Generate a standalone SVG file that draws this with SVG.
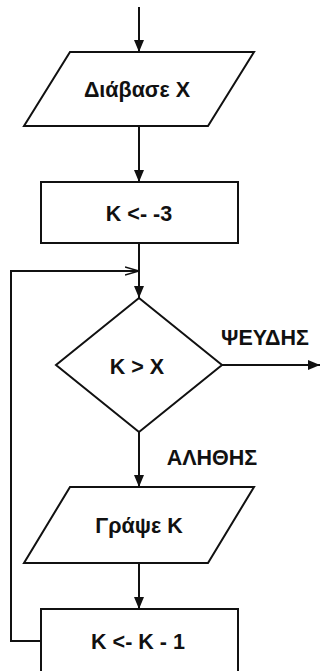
<svg xmlns="http://www.w3.org/2000/svg" width="321" height="671" viewBox="0 0 321 671">
<defs>
<style>
.shape{fill:#fff;stroke:#111;stroke-width:2;stroke-linejoin:miter}
.line{fill:none;stroke:#111;stroke-width:2}
.lbl{font-family:"Liberation Sans",Arial,sans-serif;font-weight:bold;font-size:21.5px;fill:#111;text-anchor:middle}
</style>
<marker id="arr" viewBox="0 0 12 10" refX="12" refY="5" markerWidth="12" markerHeight="10" markerUnits="userSpaceOnUse" orient="auto">
<path d="M0,0 L12,5 L0,10 Z" fill="#111"/>
</marker>
<marker id="open" viewBox="0 0 14 10" refX="14" refY="5" markerWidth="14" markerHeight="10" markerUnits="userSpaceOnUse" orient="auto">
<path d="M0,1 L14,5 L0,9" fill="none" stroke="#111" stroke-width="1.5"/>
</marker>
</defs>
<rect width="321" height="671" fill="#fff"/>
<g id="connectors">
<line class="line" x1="139" y1="7" x2="139" y2="52" marker-end="url(#arr)"/>
<line class="line" x1="139" y1="126" x2="139" y2="182" marker-end="url(#arr)"/>
<line class="line" x1="139" y1="243" x2="139" y2="298" marker-end="url(#arr)"/>
<line class="line" x1="222" y1="365" x2="320" y2="365" marker-end="url(#arr)"/>
<line class="line" x1="139" y1="432" x2="139" y2="487" marker-end="url(#arr)"/>
<line class="line" x1="139" y1="563" x2="139" y2="609" marker-end="url(#arr)"/>
<polyline class="line" points="41,641 11,641 11,271 139,271" marker-end="url(#open)"/>
</g>
<g id="read-x">
<polygon class="shape" points="70,52 254,52 208,126 24,126"/>
<text class="lbl" x="137" y="97">Διάβασε X</text>
</g>
<g id="init-k">
<rect class="shape" x="41" y="182" width="197" height="61"/>
<text class="lbl" x="139" y="221">K &lt;- -3</text>
</g>
<g id="cond">
<polygon class="shape" points="139,298 222,365 139,432 56,365"/>
<text class="lbl" x="137" y="374">K &gt; X</text>
</g>
<g id="label-false">
<text class="lbl" x="265" y="345">ΨΕΥΔΗΣ</text>
</g>
<g id="label-true">
<text class="lbl" x="212" y="465">ΑΛΗΘΗΣ</text>
</g>
<g id="write-k">
<polygon class="shape" points="70,487 254,487 208,563 24,563"/>
<text class="lbl" x="139" y="533">Γράψε K</text>
</g>
<g id="dec-k">
<rect class="shape" x="41" y="609" width="197" height="70"/>
<text class="lbl" x="138" y="649">K &lt;- K - 1</text>
</g>
</svg>
